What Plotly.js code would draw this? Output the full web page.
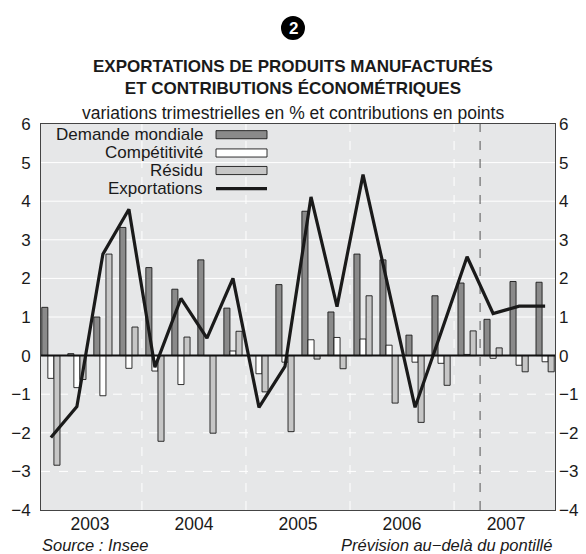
<!DOCTYPE html>
<html><head><meta charset="utf-8">
<script src="https://cdn.plot.ly/plotly-3.0.1.min.js"></script>
<style>html,body{margin:0;padding:0;background:#fff}#chart{width:586px;height:554px}</style>
</head><body><div id="chart"></div>
<script>
// Quarters 2003T1 .. 2007T4
const quarters = ["2003T1","2003T2","2003T3","2003T4","2004T1","2004T2","2004T3","2004T4",
  "2005T1","2005T2","2005T3","2005T4","2006T1","2006T2","2006T3","2006T4",
  "2007T1","2007T2","2007T3","2007T4"];
const years = ["2003","2004","2005","2006","2007"];
const demandeMondiale = [1.25, 0.05, 1.00, 3.32, 2.28, 1.72, 2.48, 1.23, 0.00, 1.84,
  3.74, 1.13, 2.63, 2.48, 0.53, 1.55, 1.88, 0.94, 1.92, 1.90];
const competitivite = [-0.59, -0.83, -1.04, -0.33, -0.40, -0.75, 0.00, 0.12, -0.47, -0.17,
  0.41, 0.47, 0.43, 0.27, -0.17, -0.20, 0.03, -0.07, -0.25, -0.16];
const residu = [-2.84, -0.62, 2.63, 0.74, -2.22, 0.48, -2.01, 0.63, -0.94, -1.97,
  -0.09, -0.34, 1.55, -1.23, -1.73, -0.77, 0.64, 0.20, -0.42, -0.42];
const exportations = [-2.12, -1.32, 2.63, 3.79, -0.30, 1.48, 0.45, 2.00, -1.34, -0.28,
  4.11, 1.27, 4.69, 1.65, -1.34, 0.60, 2.56, 1.09, 1.28, 1.28];
const seriesNames = ["Demande mondiale", "Compétitivité", "Résidu", "Exportations"];
const forecastAfter = "2007T1";

const idx = quarters.map((q, i) => i);
const yearPos = years.map((y, k) => k * 4 + 1.5);
const yearBounds = years.slice(1).map((y, k) => (k + 1) * 4 - 0.5);
const forecastX = quarters.indexOf(forecastAfter) + 0.5;

const FONT = "Liberation Sans, Arial, Helvetica, sans-serif";
const TXT = "#1a1a1a";
const cDark = "#8a8a8a", cWhite = "#ffffff", cLight = "#c6c6c6";
const outline = {color: "#1a1a1a", width: 0.9};

const traces = [
  {type: "bar", x: idx, y: demandeMondiale, name: seriesNames[0], marker: {color: cDark, line: outline}},
  {type: "bar", x: idx, y: competitivite, name: seriesNames[1], marker: {color: cWhite, line: outline}},
  {type: "bar", x: idx, y: residu, name: seriesNames[2], marker: {color: cLight, line: outline}},
  {type: "scatter", mode: "lines", x: idx, y: exportations, name: seriesNames[3],
   line: {color: "#1a1a1a", width: 3.2}},
  {type: "scatter", mode: "lines", x: [idx[0]], y: [0], yaxis: "y2", showlegend: false,
   hoverinfo: "skip", line: {color: "rgba(0,0,0,0)"}}
];

const shapes = [];
// horizontal gridlines
for (let v = -3; v <= 5; v++) {
  if (v === 0) continue;
  shapes.push({type: "line", xref: "paper", x0: 0, x1: 1, yref: "y", y0: v, y1: v, layer: "below",
    line: {color: "#ffffff", width: 1, dash: v < 0 ? "dash" : "solid"}});
}
// year separators
yearBounds.forEach(b => shapes.push({type: "line", xref: "x", x0: b, x1: b, yref: "paper", y0: 0, y1: 1,
  layer: "below", line: {color: "#ffffff", width: 1, dash: "dash"}}));
// forecast line
shapes.push({type: "line", xref: "x", x0: forecastX, x1: forecastX, yref: "paper", y0: 0, y1: 1,
  layer: "below", line: {color: "#555555", width: 1, dash: "dash"}});
// zero line
shapes.push({type: "line", xref: "paper", x0: 0, x1: 1, yref: "y", y0: 0, y1: 0, layer: "above",
  line: {color: "#111111", width: 2}});

// custom legend (text right-aligned, symbol on its right)
const legTextX = 0.319, symX0 = 0.3405, symX1 = 0.4397;
const legRows = [0.9723, 0.9249, 0.8795, 0.8324];
const legFill = [cDark, cWhite, cLight];
const annotations = [];
seriesNames.forEach((n, k) => {
  annotations.push({xref: "paper", yref: "paper", x: legTextX, y: legRows[k], xanchor: "right", yanchor: "middle",
    text: n, showarrow: false, font: {family: FONT, size: 17, color: TXT}});
  if (k < 3) {
    shapes.push({type: "rect", xref: "paper", yref: "paper", x0: symX0, x1: symX1,
      y0: legRows[k] - 0.0105, y1: legRows[k] + 0.0105, fillcolor: legFill[k], layer: "above",
      line: {color: "#1a1a1a", width: 0.9}});
  } else {
    shapes.push({type: "line", xref: "paper", yref: "paper", x0: symX0, x1: symX1,
      y0: legRows[k], y1: legRows[k], layer: "above", line: {color: "#1a1a1a", width: 3.2}});
  }
});

// header
shapes.push({type: "circle", xref: "paper", yref: "paper", x0: 0.4669, x1: 0.5136, y0: 1.2176, y1: 1.2798,
  fillcolor: "#000000", line: {color: "#000000", width: 0}});
annotations.push({xref: "paper", yref: "paper", x: 0.4903, y: 1.2487, xanchor: "center", yanchor: "middle",
  text: "<b>2</b>", showarrow: false, font: {family: FONT, size: 17, color: "#ffffff"}});
annotations.push({xref: "paper", yref: "paper", x: 0.4903, y: 1.1192, xanchor: "center", yanchor: "middle",
  text: "<b>EXPORTATIONS DE PRODUITS MANUFACTURÉS</b><br><b>ET CONTRIBUTIONS ÉCONOMÉTRIQUES</b>",
  showarrow: false, font: {family: FONT, size: 17, color: TXT}});
annotations.push({xref: "paper", yref: "paper", x: 0.4903, y: 1.0285, xanchor: "center", yanchor: "middle",
  text: "variations trimestrielles en % et contributions en points", showarrow: false,
  font: {family: FONT, size: 17.5, color: TXT}});
// footer
annotations.push({xref: "paper", yref: "paper", x: -0.002, y: -0.0907, xanchor: "left", yanchor: "middle",
  text: "<i>Source : Insee</i>", showarrow: false, font: {family: FONT, size: 16.5, color: TXT}});
annotations.push({xref: "paper", yref: "paper", x: 0.998, y: -0.0907, xanchor: "right", yanchor: "middle",
  text: "<i>Prévision au−delà du pontillé</i>", showarrow: false, font: {family: FONT, size: 16.5, color: TXT}});

const yTicks = [-4, -3, -2, -1, 0, 1, 2, 3, 4, 5, 6];
const yax = {range: [-4, 6], tickvals: yTicks, ticks: "", showgrid: false, zeroline: false,
  tickfont: {family: FONT, size: 17, color: TXT}, fixedrange: true};

const layout = {
  width: 586, height: 554,
  margin: {l: 41, r: 31, t: 124, b: 44},
  paper_bgcolor: "#ffffff", plot_bgcolor: "#e6e7e8",
  showlegend: false,
  barmode: "group", bargap: 0.3, bargroupgap: 0,
  xaxis: {range: [-0.38, 19.38], tickvals: yearPos, ticktext: years, ticks: "", showgrid: false, zeroline: false,
    showline: true, mirror: true, linecolor: "#444444", linewidth: 1, ticklabelstandoff: -2,
    tickfont: {family: FONT, size: 17.5, color: TXT}},
  yaxis: Object.assign({}, yax, {showline: true, mirror: true, linecolor: "#444444", linewidth: 1,
    ticklabelstandoff: 6}),
  yaxis2: Object.assign({}, yax, {overlaying: "y", side: "right", showline: false, ticklabelstandoff: 3}),
  shapes: shapes, annotations: annotations
};

Plotly.newPlot("chart", traces, layout, {displayModeBar: false, staticPlot: true});
</script></body></html>
